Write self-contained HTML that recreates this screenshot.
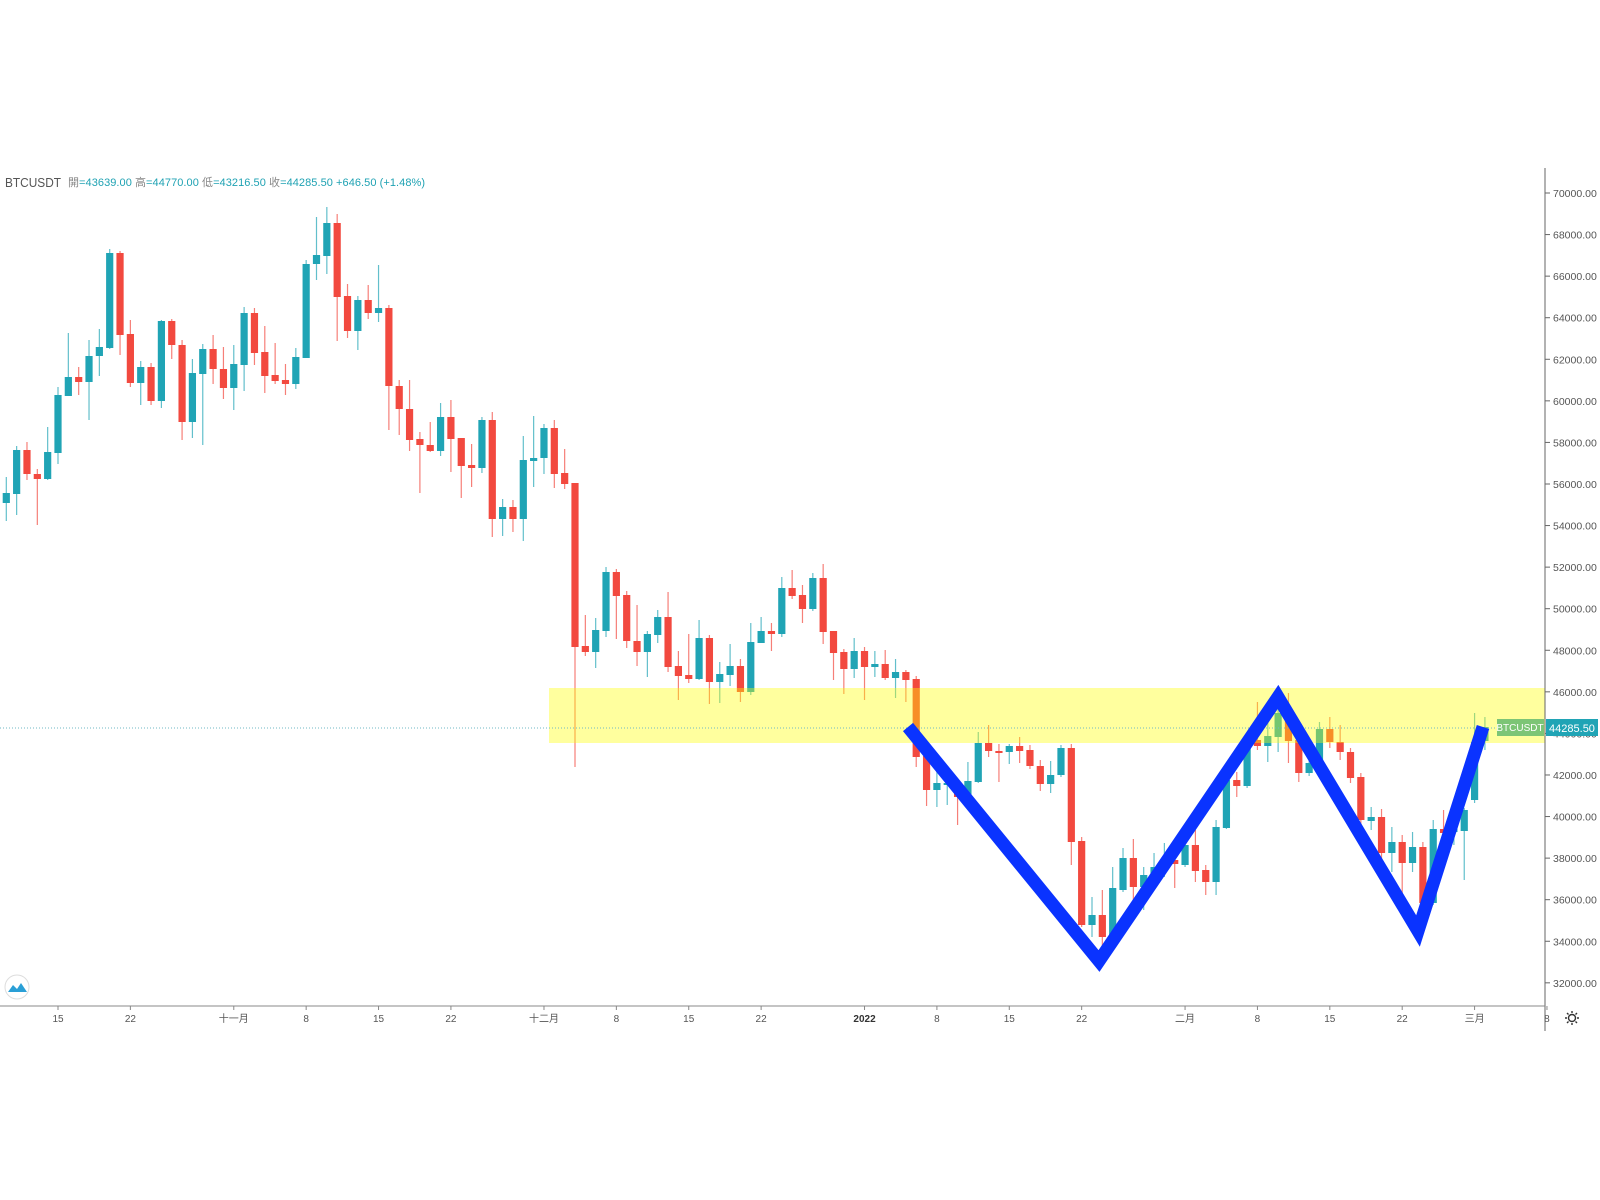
<!DOCTYPE html>
<html><head><meta charset="utf-8"><style>
html,body{margin:0;padding:0;background:#fff;width:1600px;height:1200px;overflow:hidden}
svg{display:block}
text{font-family:"Liberation Sans","Noto Sans CJK TC",sans-serif}
</style></head><body>
<svg id="s" width="1600" height="1200" viewBox="0 0 1600 1200" xmlns="http://www.w3.org/2000/svg">
<g id="c"></g>
<rect x="549" y="688" width="996" height="55" fill="#ffff00" fill-opacity="0.38"/>
<line x1="0" y1="728" x2="1545" y2="728" stroke="#6fb8c4" stroke-width="1" stroke-dasharray="1,2"/>
<polyline points="908,727 1099,961 1278,697 1418,931 1483,727" fill="none" stroke="#0a33ff" stroke-width="13" stroke-linejoin="miter" stroke-linecap="butt"/>
<line x1="1545" y1="168" x2="1545" y2="1031" stroke="#666" stroke-width="1"/>
<line x1="0" y1="1006" x2="1545" y2="1006" stroke="#888" stroke-width="1"/>
<g id="p" font-size="10.5" fill="#555"></g>
<g id="xl" font-size="10" fill="#555" text-anchor="middle"></g>
<rect x="1497" y="719" width="47" height="17" fill="#7cc576"/>
<text x="1520" y="731" font-size="10" fill="#fff" text-anchor="middle">BTCUSDT</text>
<rect x="1546" y="719" width="52" height="17" fill="#20a4b5"/>
<text x="1572" y="732" font-size="11" fill="#fff" text-anchor="middle">44285.50</text>
<text x="5" y="187" font-size="13" fill="#555" textLength="56" lengthAdjust="spacingAndGlyphs">BTCUSDT</text>
<text x="68" y="186" font-size="11" fill="#888" textLength="357" lengthAdjust="spacing">開<tspan fill="#1fa2b3">=43639.00</tspan> 高<tspan fill="#1fa2b3">=44770.00</tspan> 低<tspan fill="#1fa2b3">=43216.50</tspan> 收<tspan fill="#1fa2b3">=44285.50</tspan> <tspan fill="#1fa2b3">+646.50 (+1.48%)</tspan></text>
<circle cx="17" cy="987" r="12" fill="#fff" stroke="#ddd"/>
<path d="M8,992 L13,985 L17,989 L21,983 L27,992 Z" fill="#2a9fd6"/>
<g transform="translate(1572,1018)" fill="none" stroke="#333" stroke-width="1.4">
<circle r="3.5"/>
<path d="M0,-7V-5M0,5V7M-7,0H-5M5,0H7M-5,-5L-3.5,-3.5M3.5,3.5L5,5M-5,5L-3.5,3.5M3.5,-3.5L5,-5"/>
</g>
</svg>
<script>
var G="#20a4b5",R="#f2493f";
var d=[
[-6,502,515,500,515,1],[-5,493,503,477,521,1],[-4,450,494,446,515,1],[-3,450,474,442,480,0],[-2,474,479,469,525,0],[-1,452,479,427,480,1],
[0,395,453,387,464,1],[1,377,396,333,396,1],[2,377,382,367,395,0],[3,356,382,340,420,1],[4,347,356,329,376,1],[5,253,348,249,349,1],
[6,253,335,251,355,0],[7,334,383,320,387,0],[8,367,383,361,405,1],[9,367,401,363,405,0],[10,321,401,320,408,1],[11,321,345,319,359,0],
[12,345,422,340,440,0],[13,373,422,359,438,1],[14,349,374,344,445,1],[15,349,369,335,384,0],[16,369,388,347,399,0],[17,364,388,345,410,1],
[18,313,365,307,391,1],[19,313,353,308,365,0],[20,352,376,326,393,0],[21,375,381,343,384,0],[22,380,384,364,395,0],[23,357,384,348,389,1],
[24,264,358,260,358,1],[25,255,264,217,280,1],[26,223,256,207,274,1],[27,223,297,214,341,0],[28,296,331,284,338,0],[29,300,331,296,350,1],
[30,300,313,285,319,0],[31,308,313,265,322,1],[32,308,386,305,430,0],[33,386,409,380,435,0],[34,409,440,380,451,0],[35,439,445,432,493,0],
[36,445,451,422,452,0],[37,417,451,403,456,1],[38,417,439,400,472,0],[39,438,466,438,498,0],[40,465,468,444,487,0],[41,420,468,417,473,1],
[42,420,519,412,537,0],[43,507,519,499,536,1],[44,507,519,500,532,0],[45,460,519,436,541,1],[46,458,461,416,487,1],[47,428,458,424,474,1],
[48,428,474,420,488,0],[49,473,484,449,489,0],[50,483,647,483,767,0],[51,646,652,615,656,0],[52,630,652,618,668,1],[53,572,631,567,637,1],
[54,572,596,569,639,0],[55,595,641,591,648,0],[56,641,652,605,666,0],[57,634,652,631,677,1],[58,617,635,610,643,1],[59,617,667,592,672,0],
[60,666,676,651,700,0],[61,675,679,634,683,0],[62,638,679,620,680,1],[63,638,682,635,704,0],[64,674,682,662,703,1],[65,666,675,644,686,1],
[66,666,692,659,702,0],[67,642,692,623,695,1],[68,631,643,617,643,1],[69,631,634,623,651,0],[70,588,634,577,637,1],[71,588,596,570,599,0],
[72,595,609,585,623,0],[73,578,609,573,611,1],[74,578,632,564,644,0],[75,631,653,631,680,0],[76,652,669,649,694,0],[77,651,669,638,678,1],
[78,651,667,647,700,0],[79,664,667,651,677,1],[80,664,678,650,680,0],[81,672,678,659,698,1],[82,672,680,670,702,0],
[83,679,757,676,767,0],[84,756,790,757,806,0],[85,783,790,767,807,1],[86,783,785,767,805,1],[87,783,797,780,825,0],[88,781,797,762,800,1],
[89,743,782,732,783,1],[90,743,751,725,757,0],[91,751,753,744,782,0],[92,746,752,744,764,1],[93,746,751,737,763,0],[94,750,766,745,769,0],
[95,766,784,760,791,0],[96,775,784,761,793,1],[97,748,775,745,777,1],[98,748,842,744,865,0],[99,841,925,837,927,0],[100,915,925,897,937,1],
[101,915,937,890,950,0],[102,888,937,867,940,1],[103,858,890,848,892,1],[104,858,887,839,913,0],[105,875,887,867,910,1],[106,867,876,853,887,1],
[107,860,868,843,877,1],[108,860,864,853,888,0],[109,845,865,837,867,1],[110,845,871,830,882,0],[111,870,882,865,895,0],[112,827,882,820,895,1],
[113,780,828,777,829,1],[114,780,786,772,797,0],[115,747,786,737,788,1],[116,740,746,702,750,0],[117,736,746,720,762,1],[118,713,737,705,752,1],
[119,713,741,693,763,0],[120,740,773,738,782,0],[121,763,773,748,776,1],[122,729,763,722,765,1],[123,729,742,717,748,0],[124,742,752,725,760,0],
[125,752,778,748,783,0],[126,777,820,773,828,0],[127,817,821,807,830,1],[128,817,853,809,860,0],[129,842,853,827,872,1],[130,842,863,835,893,0],
[131,847,863,832,872,1],[132,847,903,842,913,0],[133,829,903,820,905,1],[134,829,833,810,850,0],[135,826,832,815,845,1],[136,810,831,808,880,1],
[137,742,800,713,803,1],[138,727,741,717,750,1]];
var h="";
d.forEach(function(a){var x=58+a[0]*10.34,c=a[5]?G:R;
h+='<line x1="'+x+'" x2="'+x+'" y1="'+a[3]+'" y2="'+a[4]+'" stroke="'+c+'" stroke-opacity="0.7" stroke-width="1.2"/>';
h+='<rect x="'+(x-3.6)+'" y="'+a[1]+'" width="7.2" height="'+Math.max(2,a[2]-a[1])+'" fill="'+c+'"/>';});
document.getElementById("c").innerHTML=h;
var p="";
for(var v=70000;v>=32000;v-=2000){var y=193+(70000-v)/2000*41.57;
p+='<line x1="1545" x2="1550" y1="'+y+'" y2="'+y+'" stroke="#666"/><text x="1553" y="'+(y+4)+'">'+v+'.00</text>';}
document.getElementById("p").innerHTML=p;
var L=[[0,"15"],[7,"22"],[17,"十一月"],[24,"8"],[31,"15"],[38,"22"],[47,"十二月"],[54,"8"],[61,"15"],[68,"22"],[78,"2022"],[85,"8"],[92,"15"],[99,"22"],[109,"二月"],[116,"8"],[123,"15"],[130,"22"],[137,"三月"],[144,"8"]];
var t="";
L.forEach(function(a){var x=58+a[0]*10.34;
t+='<line x1="'+x+'" x2="'+x+'" y1="1006" y2="1010" stroke="#888"/><text x="'+x+'" y="1022"'+(a[1]=="2022"?' font-weight="bold" fill="#333"':'')+'>'+a[1]+'</text>';});
document.getElementById("xl").innerHTML=t;
</script>
</body></html>
